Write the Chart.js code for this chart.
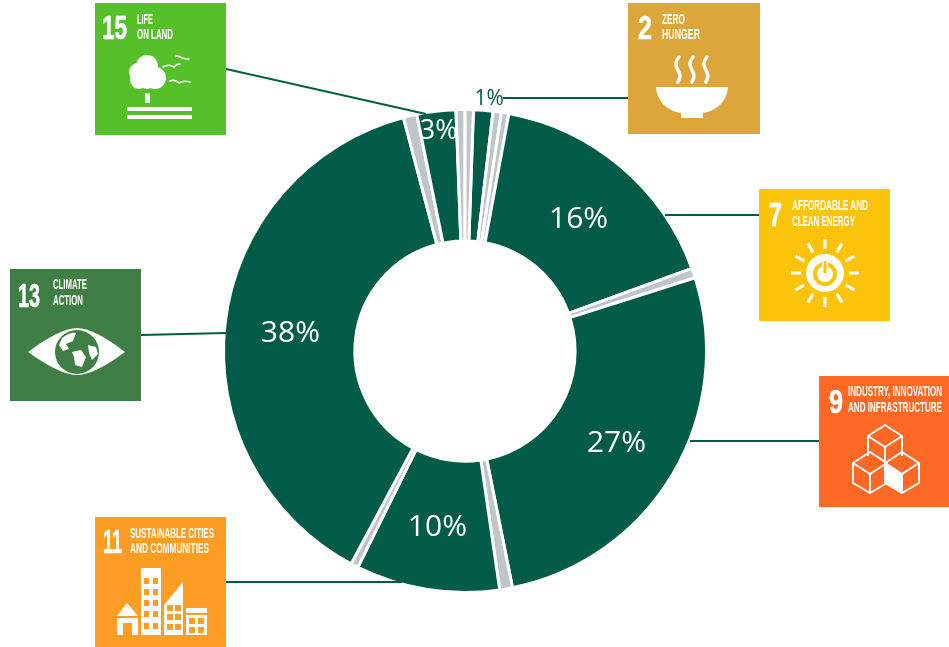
<!DOCTYPE html>
<html>
<head>
<meta charset="utf-8">
<title>SDG share</title>
<script src="https://cdn.jsdelivr.net/npm/chart.js@4/dist/chart.umd.min.js"></script>
<style>
  html, body { margin: 0; padding: 0; background: #fff; }
  #wrap { position: relative; width: 949px; height: 647px; overflow: hidden; }
  #chart { position: absolute; left: 0; top: 0; }
  #tiles { position: absolute; left: 0; top: 0; }
  #tiles text { font-family: "Liberation Sans Narrow", "Liberation Sans", sans-serif; font-weight: 700; fill: #fff; }
</style>
</head>
<body>
<div id="wrap">
  <canvas id="chart" width="949" height="647"></canvas>
  <svg id="tiles" width="949" height="647" viewBox="0 0 949 647"></svg>
</div>
<script>
// Slices clockwise from the top, the grey ones are the unnamed small goals
const categories = ['SDG 2', 'other', 'other', 'SDG 7', 'other', 'SDG 9', 'other', 'SDG 11', 'other', 'SDG 13', 'other', 'SDG 15', 'other', 'other'];
const values = [1.3, 0.55, 0.5, 16.5, 0.65, 26.7, 0.85, 9.6, 0.5, 38, 0.9, 2.6, 0.6, 0.55];
const percentLabels = ['1%', '', '', '16%', '', '27%', '', '10%', '', '38%', '', '3%', '', ''];

const GREEN = '#005c46';
const GREY = '#bfc5c8';

// Small slices have their label pushed out from the ring
const labelStyle = {
  0: { radius: 253, dx: 5, dy: 0, font: '21px "Open Sans"', color: GREEN },
  11: { radius: 222, dy: 1, font: '27px "Open Sans"', color: '#fff' }
};

const sliceLabels = {
  id: 'sliceLabels',
  afterDatasetsDraw(chart) {
    const { ctx } = chart;
    const arcs = chart.getDatasetMeta(0).data;
    ctx.save();
    ctx.textAlign = 'center';
    ctx.textBaseline = 'middle';
    arcs.forEach((arc, i) => {
      if (!percentLabels[i]) return;
      const style = labelStyle[i] || {};
      const mid = (arc.startAngle + arc.endAngle) / 2;
      const r = style.radius || (arc.innerRadius + arc.outerRadius) / 2;
      const dx = style.dx || 0;
      const dy = style.dy === undefined ? 3 : style.dy;
      ctx.font = style.font || '30px "Open Sans"';
      ctx.fillStyle = style.color || '#fff';
      ctx.fillText(percentLabels[i], arc.x + Math.cos(mid) * r + dx, arc.y + Math.sin(mid) * r + dy);
    });
    ctx.restore();
  }
};

new Chart(document.getElementById('chart'), {
  type: 'doughnut',
  data: {
    labels: categories,
    datasets: [{
      data: values,
      backgroundColor: categories.map(c => (c === 'other' ? GREY : GREEN)),
      borderColor: '#fff',
      borderWidth: 3
    }]
  },
  options: {
    responsive: false,
    animation: false,
    rotation: 2,
    cutout: '45.6%',
    layout: { padding: { left: 222, right: 241, top: 108, bottom: 53 } },
    plugins: { legend: { display: false }, tooltip: { enabled: false } }
  },
  plugins: [sliceLabels]
});

// Goal tiles and their leader lines
const leaders = [
  [226, 69, 426, 114],
  [503, 98, 628, 98],
  [665, 215, 759, 215],
  [690, 441, 819, 441],
  [226, 582, 402, 582],
  [141, 335, 226, 333]
];

const tiles = [
  { x: 95, y: 3, w: 131, h: 132, color: '#56c02b', num: '15', nx: 102, nw: 25, base: 39,
    lines: [['LIFE', 137, 16, 24], ['ON LAND', 137, 36, 39]] },
  { x: 628, y: 3, w: 132, h: 131, color: '#dda63a', num: '2', nx: 638, nw: 14, base: 39,
    lines: [['ZERO', 662, 23, 24], ['HUNGER', 662, 38, 39]] },
  { x: 759, y: 189, w: 131, h: 132, color: '#fcc30b', num: '7', nx: 769, nw: 13, base: 226,
    lines: [['AFFORDABLE AND', 792, 76, 210], ['CLEAN ENERGY', 792, 63, 226]] },
  { x: 819, y: 376, w: 130, h: 131, color: '#fd6925', num: '9', nx: 829, nw: 14, base: 413,
    lines: [['INDUSTRY, INNOVATION', 848, 94, 396], ['AND INFRASTRUCTURE', 848, 94, 412]] },
  { x: 95, y: 517, w: 131, h: 130, color: '#fd9d24', num: '11', nx: 103, nw: 19, base: 553,
    lines: [['SUSTAINABLE CITIES', 130, 84, 538], ['AND COMMUNITIES', 130, 79, 553]] },
  { x: 10, y: 269, w: 131, h: 132, color: '#3f7e44', num: '13', nx: 18, nw: 22, base: 307,
    lines: [['CLIMATE', 53, 34, 289], ['ACTION', 53, 30, 305]] }
];

const W = 'fill="#fff"';
const stroke = (w) => `fill="none" stroke="#fff" stroke-width="${w}" stroke-linecap="round" stroke-linejoin="round"`;

function sunRays() {
  let out = '';
  for (let a = 0; a < 360; a += 30) {
    const c = Math.cos(a * Math.PI / 180), s = Math.sin(a * Math.PI / 180);
    out += `<line x1="${825 + c * 24}" y1="${273 + s * 24}" x2="${825 + c * 34}" y2="${273 + s * 34}" stroke="#fff" stroke-width="3"/>`;
  }
  return out;
}

function windows(xs, ys, w, h, color) {
  let out = '';
  xs.forEach(x => ys.forEach(y => { out += `<rect x="${x}" y="${y}" width="${w}" height="${h}" fill="${color}"/>`; }));
  return out;
}

const icons = [
  // tree and birds
  `<g ${W}><circle cx="147" cy="66" r="11"/><circle cx="138" cy="72" r="9"/><circle cx="155" cy="78" r="11"/><circle cx="139" cy="80" r="9"/><circle cx="147" cy="79" r="10"/>
   <rect x="145" y="93" width="5" height="10"/><rect x="127" y="107" width="65" height="4"/><rect x="127" y="115" width="65" height="4"/></g>
   <path d="M163 67q5-3 9-1q2 1 2 1q2-3 6-3" ${stroke(1.6)}/><path d="M176 56q4 0 6 2q3 1 7 1" ${stroke(1.6)}/><path d="M170 81q5-2 9 2q4-3 11-1" ${stroke(1.6)}/>`,
  // bowl
  `<path d="M656 87H728C727 102 716 111 703 113V118H681V113C668 111 657 102 656 87Z" ${W}/>
   <path d="M679 57c-4 5-4 8-1 13c3 5 2 8 0 12M693 57c-4 5-4 8-1 13c3 5 2 8 0 12M707 57c-4 5-4 8-1 13c3 5 2 8 0 12" fill="none" stroke="#fff" stroke-width="3.5" stroke-linecap="round"/>`,
  // sun with power button
  `${sunRays()}<circle cx="825" cy="273" r="19" fill="#fff"/><circle cx="825" cy="274" r="10" fill="none" stroke="#fcc30b" stroke-width="4"/>
   <line x1="825" y1="262" x2="825" y2="273" stroke="#fff" stroke-width="6"/><line x1="825" y1="261" x2="825" y2="273" stroke="#fcc30b" stroke-width="3"/>`,
  // cubes
  `<g fill="none" stroke="#fff" stroke-width="2" stroke-linejoin="round">
   <path d="M885 425L902 436L885 447L868 436Z"/><path d="M868 436V456M902 436V456M885 447V483"/>
   <path d="M870 452L887 463L870 474L853 463Z"/><path d="M853 463V483L870 493L887 483V463M870 474V493"/>
   <path d="M902 452L919 463L902 474L885 463Z"/><path d="M919 463V483L902 493L885 483M902 474V493"/></g>
   <path d="M887 464L902 474V493L887 483Z" fill="#fff"/>`,
  // city
  `<rect x="141" y="568" width="20" height="67" ${W}/>${windows([144, 153], [578, 589, 600, 611, 623], 5, 6, '#fd9d24')}
   <path d="M164 635V605L183 582V635Z" ${W}/>${windows([167, 175], [605, 614, 624], 6, 6, '#fd9d24')}
   <rect x="186" y="608" width="21" height="27" ${W}/><rect x="186" y="613" width="21" height="2" fill="#fd9d24"/>${windows([189, 198], [618, 627], 6, 6, '#fd9d24')}
   <path d="M117 616L127 603L138 616Z" ${W}/><rect x="117" y="618" width="21" height="17" ${W}/><rect x="123" y="623" width="9" height="12" fill="#fd9d24"/>`,
  // eye with globe
  `<path d="M28 352Q60 328 77 328Q94 328 125 352Q94 375 77 375Q60 375 28 352Z" ${W}/><circle cx="77" cy="352" r="22" fill="#3f7e44"/>
   <path d="M62 338q8-6 14-5l-3 8l-7 3l3 5l-6 2l-4-6ZM72 352l9-2l5 7l-4 10l-7-2l-1-8ZM88 345l8 2l2 7l-6 6l-3-7Z" ${W}/>`
];

let svg = '';
leaders.forEach(l => {
  svg += `<line x1="${l[0]}" y1="${l[1]}" x2="${l[2]}" y2="${l[3]}" stroke="${GREEN}" stroke-width="2"/>`;
});
tiles.forEach((t, i) => {
  svg += `<rect x="${t.x}" y="${t.y}" width="${t.w}" height="${t.h}" fill="${t.color}"/>`;
  svg += `<text x="${t.nx}" y="${t.base}" font-size="34" stroke="#fff" stroke-width="0.7" textLength="${t.nw}" lengthAdjust="spacingAndGlyphs">${t.num}</text>`;
  t.lines.forEach(([str, x, w, y]) => {
    svg += `<text x="${x}" y="${y}" font-size="14" textLength="${w}" lengthAdjust="spacingAndGlyphs">${str}</text>`;
  });
  svg += icons[i];
});
document.getElementById('tiles').innerHTML = svg;
</script>
</body>
</html>
